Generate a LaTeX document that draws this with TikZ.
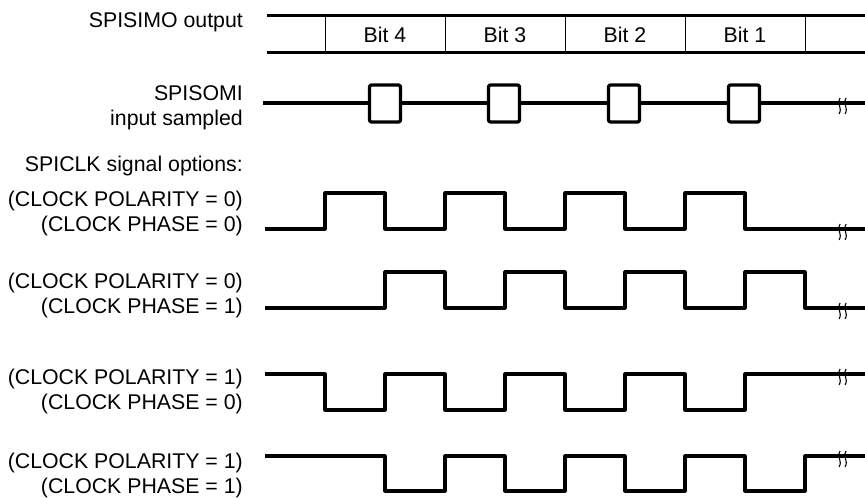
\documentclass[tikz,border=0pt]{standalone}
\usepackage{fontspec}
\setmainfont{Liberation Sans}
\begin{document}
\begin{tikzpicture}[x=1pt, y=-1pt,
    wave/.style={line width=3.2pt, line join=round},
    lbl/.style={anchor=east, align=right, inner sep=0pt, font=\fontsize{21.3}{25}\selectfont},
    bitlbl/.style={inner sep=0pt, font=\fontsize{21.3}{25}\selectfont},
    brk/.style={line width=1.1pt}]
    \useasboundingbox (0,0) rectangle (865,498);
    % Signal names on the left
    \node[lbl] (mosi) at (243,22) {SPISIMO output};
    \node[lbl] (somi) at (243,107.5) {SPISOMI\\input sampled};
    \node[lbl] (clk) at (243,166) {SPICLK signal options:};
    \node[lbl] (optA) at (243,213.5) {(CLOCK POLARITY = 0)\\(CLOCK PHASE = 0)};
    \node[lbl] (optB) at (243,295) {(CLOCK POLARITY = 0)\\(CLOCK PHASE = 1)};
    \node[lbl] (optC) at (243,391) {(CLOCK POLARITY = 1)\\(CLOCK PHASE = 0)};
    \node[lbl] (optD) at (243,475.5) {(CLOCK POLARITY = 1)\\(CLOCK PHASE = 1)};
    % SPISIMO bus with bit cells
    \draw[line width=3pt] (267,15) -- (865,15);
    \draw[line width=3pt] (267,52) -- (865,52);
    \foreach \x in {325,445,565,685,805}
        \draw[line width=0.8pt] (\x,15) -- (\x,52);
    \foreach \x/\n in {385/4,505/3,625/2,745/1}
        \node[bitlbl] (bit\n) at (\x,35) {Bit \n};
    % SPISOMI sample windows
    \draw[wave] (263,103) -- (865,103);
    \foreach \x in {385,504,624,744}
        \draw[wave, fill=white, rounded corners=1.5pt] (\x-15.5,85) rectangle (\x+15.5,122);
    % SPICLK waveforms
    \draw[wave] (265,229) foreach \x in {325,445,565,685} {-- (\x,229) -- (\x,193) -- (\x+60,193) -- (\x+60,229)} -- (865,229);
    \draw[wave] (265,308) foreach \x in {385,505,625,745} {-- (\x,308) -- (\x,272) -- (\x+60,272) -- (\x+60,308)} -- (865,308);
    \draw[wave] (265,374) foreach \x in {325,445,565,685} {-- (\x,374) -- (\x,410) -- (\x+60,410) -- (\x+60,374)} -- (865,374);
    \draw[wave] (265,456) foreach \x in {385,505,625,745} {-- (\x,456) -- (\x,491) -- (\x+60,491) -- (\x+60,456)} -- (865,456);
    % Break marks near the right edge
    \foreach \y in {103,229,308,374,456}
        \foreach \dx in {0,6}
            \draw[brk] (840+\dx,\y-5) .. controls (836+\dx,\y) and (843+\dx,\y+5) .. (839+\dx,\y+11);
\end{tikzpicture}
\end{document}
